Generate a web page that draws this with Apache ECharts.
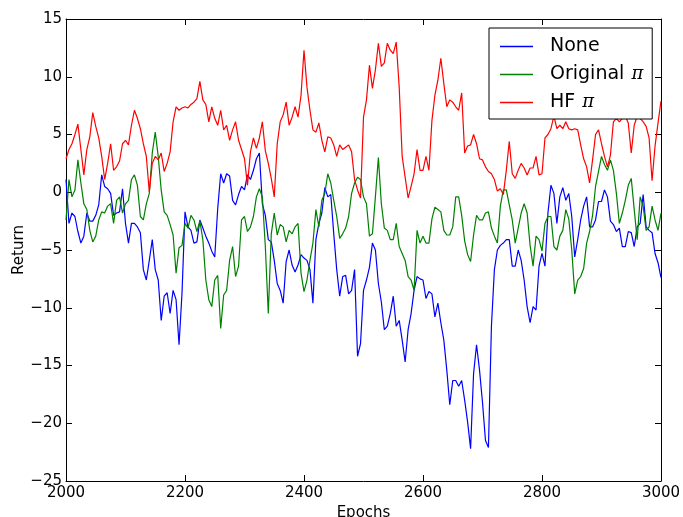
<!DOCTYPE html>
<html><head><meta charset="utf-8">
<script src="https://cdn.jsdelivr.net/npm/echarts@6/dist/echarts.min.js"></script>
<style>html,body{margin:0;padding:0;background:#fff}#c{width:683px;height:517px}</style>
</head><body><div id="c"></div>
<script>
// Epoch sampling of the readings (every 5 epochs from 2000 to 3000)
const startEpoch = 2000;
const stepEpoch = 5;

const noneValues = [
  1.1, -2.7, -1.8, -2.1, -3.4, -4.4, -3.8, -1.8, -2.5, -2.5,
  -2.0, -1.1, 1.5, 0.5, 0.3, -0.1, -2.0, -1.8, -1.7, 0.3,
  -2.7, -4.4, -2.7, -2.7, -3.0, -3.5, -6.7, -7.6, -5.9, -4.1,
  -6.7, -7.6, -11.1, -9.0, -8.7, -10.5, -8.5, -9.3, -13.2, -8.7,
  -1.7, -3.0, -3.3, -4.4, -4.3, -2.4, -3.1, -3.8, -4.4, -5.1,
  -5.6, -1.4, 1.6, 0.8, 1.6, 1.4, -0.7, -1.1, -0.2, 0.5,
  0.2, 1.5, 1.1, 1.9, 2.9, 3.4, -1.0, -2.0, -4.1, -4.3,
  -5.9, -7.9, -8.5, -9.6, -6.0, -5.0, -6.3, -6.9, -6.3, -5.4,
  -5.7, -5.9, -6.7, -9.6, -4.1, -2.7, -1.8, 0.4, -0.4, -0.2,
  -3.6, -6.7, -9.0, -7.3, -7.2, -8.8, -8.5, -6.7, -14.2, -13.1,
  -8.5, -7.6, -6.5, -4.4, -5.0, -7.9, -9.5, -11.9, -11.6, -10.5,
  -9.0, -11.6, -11.1, -12.8, -14.7, -11.9, -10.5, -8.5, -7.3, -7.5,
  -7.6, -9.2, -8.6, -8.8, -10.8, -9.6, -11.3, -12.8, -15.4, -18.4,
  -16.3, -16.3, -16.8, -16.3, -18.0, -19.9, -22.2, -15.7, -13.2, -15.4,
  -18.2, -21.5, -22.1, -11.6, -6.7, -5.0, -4.6, -4.4, -4.1, -4.1,
  -6.4, -6.4, -5.0, -5.9, -7.6, -9.9, -11.3, -9.9, -10.2, -6.4,
  -5.3, -6.4, -1.8, 0.6, -0.1, -2.7, -0.4, 0.4, -0.7, -0.1,
  -2.1, -5.6, -4.1, -2.4, -1.2, -0.4, -3.0, -3.0, -2.4, -0.8,
  -0.8, 0.2, -0.4, -2.5, -2.8, -3.4, -3.1, -4.7, -4.7, -3.4,
  -3.5, -4.7, -3.0, -2.7, -0.2, -3.0, -3.3, -3.5, -5.3, -6.1,
  -7.4
];

const originalValues = [
  -2.4, 1.1, -0.4, 0.2, 2.8, 0.8, -1.0, -1.5, -3.3, -4.3,
  -3.8, -2.4, -1.7, -1.8, -1.2, -1.0, -2.7, -0.7, -0.4, -1.8,
  -1.0, -0.7, 1.1, 1.5, 0.6, -2.1, -2.4, -1.0, -0.1, 3.4,
  5.2, 3.1, 0.2, -1.7, -2.0, -2.8, -3.7, -7.0, -4.8, -4.6,
  -2.7, -3.1, -2.0, -2.4, -3.4, -2.5, -4.1, -7.6, -9.3, -9.9,
  -7.6, -7.2, -11.8, -8.9, -8.5, -5.9, -4.7, -7.3, -6.4, -2.4,
  -2.1, -3.4, -3.0, -2.1, -0.4, 0.3, -0.4, -4.7, -10.5, -3.6,
  -1.8, -3.7, -2.8, -3.0, -4.3, -3.3, -3.6, -3.0, -2.7, -7.0,
  -8.6, -7.6, -5.9, -4.4, -1.5, -3.0, -0.7, -0.1, 1.6, 0.8,
  -0.7, -2.1, -4.0, -3.6, -3.1, -2.1, -0.1, 0.8, 1.3, 1.1,
  -0.4, -1.0, -3.8, -3.6, -0.4, 3.0, -1.0, -3.1, -3.3, -4.1,
  -4.1, -2.7, -4.7, -5.3, -5.9, -7.3, -7.6, -8.5, -3.3, -4.4,
  -3.8, -4.4, -4.4, -2.3, -1.3, -1.5, -1.7, -3.3, -3.7, -3.7,
  -3.0, -0.4, -0.4, -2.0, -4.2, -5.4, -6.0, -3.7, -2.0, -2.4,
  -2.4, -1.8, -1.7, -3.1, -3.8, -4.4, -1.2, 0.2, 0.2, -1.1,
  -2.4, -4.4, -3.1, -1.8, -1.0, -1.8, -4.6, -6.4, -3.8, -4.1,
  -5.1, -2.7, -2.1, -2.1, -4.7, -5.0, -3.8, -3.3, -1.5, -2.3,
  -5.0, -8.8, -7.6, -7.3, -6.6, -4.4, -3.4, -2.0, 0.5, 1.8,
  3.1, 2.4, 1.9, 2.8, 1.9, -0.1, -2.7, -1.8, -0.7, 0.6,
  1.2, -1.5, -4.1, -0.4, -1.2, -3.3, -3.0, -1.2, -2.4, -3.3,
  -1.8
];

const hfValues = [
  2.9, 3.7, 4.2, 5.0, 5.9, 3.7, 1.5, 3.7, 4.8, 6.9,
  5.7, 4.7, 3.1, 1.1, 2.5, 4.2, 1.9, 2.2, 2.7, 4.2,
  4.5, 4.1, 5.8, 7.1, 6.4, 5.5, 4.2, 3.1, 0.0, 2.5,
  3.1, 2.8, 3.4, 1.8, 2.5, 3.5, 6.1, 7.4, 7.1, 7.3,
  7.4, 7.3, 7.6, 7.8, 8.1, 9.6, 8.0, 7.6, 6.1, 7.4,
  6.4, 5.8, 7.1, 5.4, 5.8, 4.5, 5.4, 6.1, 4.5, 3.7,
  2.9, 0.6, 3.5, 4.7, 3.8, 4.7, 6.1, 3.6, 2.5, 1.2,
  -0.4, 4.2, 6.1, 6.7, 7.8, 5.8, 6.5, 7.4, 6.5, 8.4,
  12.3, 9.1, 7.1, 5.4, 5.2, 6.0, 4.5, 3.5, 4.8, 4.7,
  4.1, 3.1, 4.1, 3.7, 3.9, 4.1, 3.5, 1.1, 0.2, -0.5,
  6.5, 8.0, 11.0, 9.0, 10.6, 12.9, 10.9, 11.2, 12.9, 12.3,
  12.0, 13.0, 9.1, 3.1, 1.3, -0.5, 0.5, 1.6, 3.7, 1.9,
  1.9, 3.1, 1.9, 6.2, 8.4, 9.7, 11.6, 9.4, 7.4, 8.0,
  7.8, 7.4, 7.1, 8.6, 3.4, 4.0, 4.1, 5.0, 4.2, 2.9,
  2.8, 2.2, 1.8, 1.6, 1.1, 0.1, 0.3, -0.2, 1.9, 4.4,
  1.6, 1.2, 1.9, 2.5, 2.1, 1.5, 2.1, 2.1, 3.1, 1.5,
  1.6, 4.7, 5.0, 5.5, 6.6, 5.5, 5.8, 5.5, 6.1, 5.5,
  5.4, 5.5, 5.4, 4.1, 2.9, 2.2, 0.8, 2.8, 5.0, 5.4,
  4.2, 3.1, 2.2, 3.2, 6.1, 6.4, 6.1, 6.4, 6.6, 6.0,
  3.4, 5.8, 6.6, 6.4, 6.1, 5.7, 4.7, 1.0, 4.0, 6.0,
  7.9
];

const seriesNames = ['None', 'Original π', 'HF π'];
const seriesColors = ['#0000ff', '#008000', '#ff0000'];
const xTickValues = [2000, 2200, 2400, 2600, 2800, 3000];
const yTickValues = [-25, -20, -15, -10, -5, 0, 5, 10, 15];

function toPairs(values) {
  return values.map((v, i) => [startEpoch + i * stepEpoch, v]);
}
const fmt = v => String(v).replace('-', '\u2212');
const FONT = 'DejaVu Sans';

const xCommon = {
  type: 'value', min: xTickValues[0], max: xTickValues[xTickValues.length - 1], interval: 200,
  splitLine: { show: false },
  axisLine: { show: true, onZero: false, lineStyle: { color: '#000', width: 1 } },
  axisTick: { show: true, inside: true, length: 6, lineStyle: { color: '#000', width: 1 } }
};
const yCommon = {
  type: 'value', min: yTickValues[0], max: yTickValues[yTickValues.length - 1], interval: 5,
  splitLine: { show: false },
  axisLine: { show: true, onZero: false, lineStyle: { color: '#000', width: 1 } },
  axisTick: { show: true, inside: true, length: 6, lineStyle: { color: '#000', width: 1 } }
};

const chart = echarts.init(document.getElementById('c'), null, { renderer: 'canvas' });
const allValues = [noneValues, originalValues, hfValues];

chart.setOption({
  animation: false,
  backgroundColor: '#fff',
  grid: { left: 66, top: 19, width: 595, height: 462, containLabel: false, outerBoundsMode: 'none' },
  xAxis: [
    Object.assign({}, xCommon, {
      position: 'bottom',
      axisLabel: { show: true, margin: 5, color: '#000', fontSize: 15, fontFamily: FONT, formatter: fmt },
      name: 'Epochs', nameLocation: 'middle', nameGap: 25, nameMoveOverlap: false,
      nameTextStyle: { color: '#000', fontSize: 15, fontFamily: FONT }
    }),
    Object.assign({}, xCommon, { position: 'top', axisLabel: { show: false } })
  ],
  yAxis: [
    Object.assign({}, yCommon, {
      position: 'left',
      axisLabel: { show: true, margin: 4, color: '#000', fontSize: 15, fontFamily: FONT, formatter: fmt },
      name: 'Return', nameLocation: 'middle', nameGap: 39, nameRotate: 90, nameMoveOverlap: false,
      nameTextStyle: { color: '#000', fontSize: 15, fontFamily: FONT }
    }),
    Object.assign({}, yCommon, { position: 'right', axisLabel: { show: false } })
  ],
  legend: {
    data: seriesNames,
    orient: 'vertical',
    left: 489, top: 28,
    backgroundColor: '#fff',
    borderColor: '#000', borderWidth: 1, borderRadius: 0,
    padding: [9, 9, 7, 11],
    itemWidth: 33, itemHeight: 1.3, itemGap: 9,
    icon: 'rect',
    formatter: name => name.replace('π', '{pi|π}'),
    textStyle: {
      color: '#000', fontSize: 19, fontFamily: FONT, padding: [0, 0, 0, 12],
      rich: { pi: { fontSize: 18, fontFamily: 'DejaVu Serif', fontStyle: 'italic', color: '#000', padding: [0, 0, 0, 1] } }
    }
  },
  series: seriesNames.map((name, k) => ({
    name, type: 'line', xAxisIndex: 0, yAxisIndex: 0,
    data: toPairs(allValues[k]),
    showSymbol: false, symbol: 'none',
    color: seriesColors[k],
    lineStyle: { color: seriesColors[k], width: 1.2 },
    itemStyle: { color: seriesColors[k] },
    clip: true
  }))
});
</script>
</body></html>
